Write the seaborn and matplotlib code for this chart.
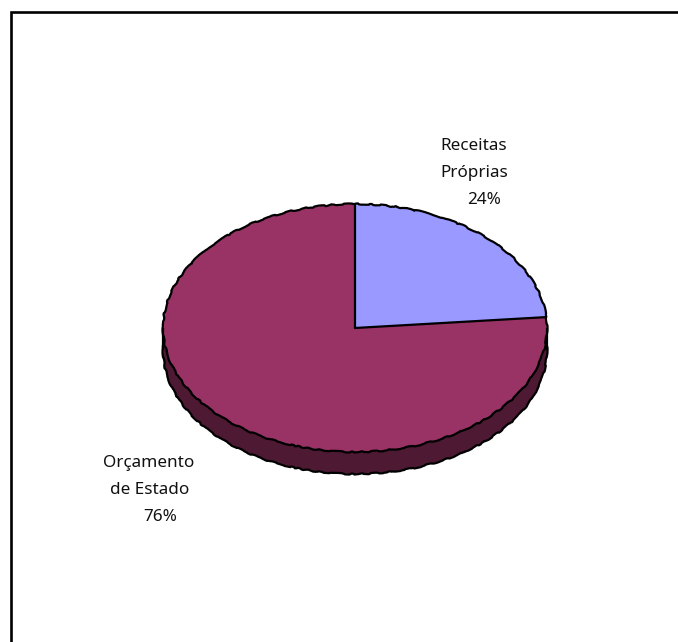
import matplotlib
matplotlib.use("Agg")
import matplotlib.pyplot as plt
from matplotlib.patches import Arc
import numpy as np
import seaborn as sns

# Values and labels
label_lines = [["Receitas", "Próprias", "24%"], ["Orçamento", "de Estado", "76%"]]
values = [23.6, 76.4]

sns.set_theme(style="white")
plt.rcParams["font.family"] = ["Noto Sans", "DejaVu Sans"]

top_colors = sns.color_palette(["#9999FF", "#993366"])
side_color = "#4D1933"

W, H = 678, 642
cx, cy, rx, ry, depth = 355, 328, 192, 124, 22

fig = plt.figure(figsize=(W / 100, H / 100), dpi=100, facecolor="white")
ax = fig.add_axes([0, 0, 1, 1])
lw = 1.6


def draw_pie(colors, offset):
    wedges, _ = ax.pie(values, colors=colors, startangle=90, counterclock=False,
                       center=(0, offset), radius=1, wedgeprops=dict(linewidth=0))
    # Only the rim gets the hand-drawn wobble, the radial lines stay straight
    for w in wedges:
        rim = Arc((0, offset), 2, 2, theta1=w.theta1, theta2=w.theta2,
                  edgecolor="black", linewidth=lw)
        rim.set_sketch_params(scale=0.6, length=35, randomness=10)
        ax.add_patch(rim)
    return wedges


# Thick side of the pie first, then the top face
d = depth / ry
draw_pie([side_color, side_color], -d)
ax.fill_between([-1, 1], -d, 0, color=side_color, linewidth=0)
ax.vlines([-1, 1], -d, 0, color="black", linewidth=lw)
wedges = draw_pie(top_colors, 0)
for w in wedges:
    a = np.radians(w.theta1)
    ax.plot([0, np.cos(a)], [0, np.sin(a)], color="black", linewidth=lw, solid_capstyle="round")

# pie() forces an equal aspect, undo it so the pie is squashed
ax.set_aspect("auto")
ax.set_xlim(-cx / rx, (W - cx) / rx)
ax.set_ylim((cy - H) / ry, cy / ry)
ax.set_axis_off()

# Outer frame runs off the right and bottom of the image
frame = plt.Rectangle((11 / W, -0.1), 1.1, 1.1 - 12 / H, transform=fig.transFigure,
                      fill=False, edgecolor="black", linewidth=1.9)
fig.add_artist(frame)

# Labels, each line placed on its own
line_pos = [[(473.5, 146), (474, 173), (484, 200)], [(148.5, 463), (149.5, 490), (160.5, 517)]]
for lines, positions in zip(label_lines, line_pos):
    for text, (x, y) in zip(lines, positions):
        fig.text(x / W, 1 - y / H, text, ha="center", va="center", fontsize=12.3, color="#111111")

fig.savefig("out.png", dpi=100)
